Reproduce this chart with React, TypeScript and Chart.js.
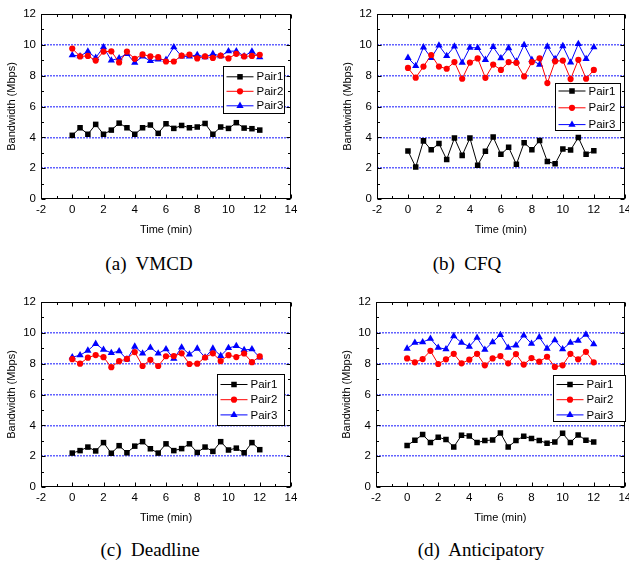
import React, { useEffect, useRef } from "react";
import { Chart, registerables } from "chart.js";

Chart.register(...registerables);

// ---------- data ----------
const times = [0, 0.5, 1, 1.5, 2, 2.5, 3, 3.5, 4, 4.5, 5, 5.5, 6, 6.5, 7, 7.5, 8, 8.5, 9, 9.5, 10, 10.5, 11, 11.5, 12];
const xTicks = [-2, 0, 2, 4, 6, 8, 10, 12, 14];
const yTicks = [0, 2, 4, 6, 8, 10, 12];
const seriesNames = ["Pair1", "Pair2", "Pair3"];
const xTitle = "Time (min)";
const yTitle = "Bandwidth (Mbps)";

const vmcdPair1 = [4.13, 4.62, 4.2, 4.84, 4.2, 4.47, 4.92, 4.62, 4.2, 4.62, 4.8, 4.26, 4.88, 4.58, 4.77, 4.62, 4.67, 4.9, 4.2, 4.67, 4.58, 4.95, 4.6, 4.56, 4.47];
const vmcdPair2 = [9.76, 9.25, 9.28, 8.98, 9.56, 9.58, 8.86, 9.56, 9.09, 9.38, 9.25, 9.2, 8.92, 8.92, 9.3, 9.37, 9.12, 9.25, 9.15, 9.3, 9.12, 9.42, 9.25, 9.28, 9.35];
const vmcdPair3 = [9.33, 9.27, 9.57, 9.16, 9.85, 8.99, 9.14, 9.42, 8.84, 9.25, 8.95, 9.05, 9.03, 9.85, 9.25, 9.25, 9.35, 9.2, 9.42, 9.27, 9.59, 9.59, 9.27, 9.57, 9.2];

const cfqPair1 = [3.12, 2.07, 3.77, 3.19, 3.6, 2.56, 3.95, 2.83, 3.95, 2.19, 3.1, 4.02, 2.9, 3.35, 2.25, 3.65, 3.19, 3.8, 2.43, 2.28, 3.24, 3.18, 3.99, 2.9, 3.13];
const cfqPair2 = [8.5, 7.87, 8.59, 9.34, 8.59, 8.45, 8.88, 7.8, 8.85, 9.12, 7.86, 8.72, 8.37, 8.88, 8.83, 7.95, 8.88, 9.13, 7.52, 8.93, 8.98, 7.78, 9.03, 7.8, 8.37];
const cfqPair3 = [9.16, 8.63, 9.84, 9.15, 9.96, 9.28, 9.9, 8.84, 9.82, 9.8, 9.03, 9.86, 9.14, 9.79, 8.92, 10.0, 9.03, 8.71, 9.89, 9.08, 9.92, 8.86, 10.06, 9.08, 9.85];

const deadlinePair1 = [2.2, 2.36, 2.59, 2.34, 2.88, 2.19, 2.68, 2.22, 2.65, 2.94, 2.48, 2.2, 2.8, 2.36, 2.49, 2.8, 2.24, 2.59, 2.31, 2.94, 2.4, 2.52, 2.22, 2.88, 2.42];
const deadlinePair2 = [8.29, 8.0, 8.39, 8.56, 8.42, 7.77, 8.16, 8.31, 8.75, 7.85, 8.25, 7.85, 8.48, 8.49, 8.67, 7.98, 8.0, 8.4, 8.67, 8.17, 8.55, 8.43, 8.66, 8.1, 8.47];
const deadlinePair3 = [8.42, 8.55, 8.85, 9.29, 8.91, 8.7, 8.81, 8.28, 9.11, 8.66, 9.04, 8.66, 8.94, 8.32, 9.06, 8.6, 8.98, 8.4, 8.98, 8.51, 9.02, 9.15, 8.89, 8.94, 8.4];

const anticPair1 = [2.69, 3.03, 3.4, 2.88, 3.23, 3.08, 2.6, 3.35, 3.31, 2.88, 3.01, 3.05, 3.51, 2.6, 3.01, 3.29, 3.14, 3.01, 2.84, 2.92, 3.48, 2.88, 3.38, 3.03, 2.92];
const anticPair2 = [8.34, 8.09, 8.3, 8.83, 7.98, 8.28, 8.64, 8.02, 8.26, 8.64, 7.89, 8.34, 8.49, 8.02, 8.62, 7.94, 8.36, 8.13, 8.45, 7.79, 7.89, 8.64, 8.28, 8.77, 8.09];
const anticPair3 = [8.98, 9.36, 9.4, 9.62, 9.04, 8.94, 9.79, 9.36, 9.11, 9.68, 8.91, 9.4, 9.87, 9.04, 9.19, 9.83, 9.3, 9.72, 8.98, 9.53, 8.94, 9.36, 9.49, 9.89, 9.26];

// ---------- styles ----------
const FONT = "'Liberation Sans', Arial, sans-serif";
const seriesColors = ["#000000", "#ff0000", "#0000ff"];
const seriesMarkers = ["rect", "circle", "triangle"];
const markerRadius = [3.9, 3.1, 4.2];
const GRID = "rgba(70,70,255,0.85)";

type LegendBox = { x: number; y: number; w: number; h: number; r0: number; dr: number };
type PanelCfg = {
  caption: string;
  series: number[][];
  left: number;
  top: number;
  width: number;
  height: number;
  padL: number;
  padR: number;
  legend: LegendBox;
  capX: number;
  capY: number;
};

const panels: PanelCfg[] = [
  { caption: "(a)  VMCD", series: [vmcdPair1, vmcdPair2, vmcdPair3], left: 0, top: 0, width: 310, height: 245, padL: 0, padR: 19,
    legend: { x: 223, y: 66, w: 61, h: 47, r0: 10.3, dr: 14.5 }, capX: 149, capY: 264 },
  { caption: "(b)  CFQ", series: [cfqPair1, cfqPair2, cfqPair3], left: 310, top: 0, width: 319, height: 245, padL: 26, padR: 4,
    legend: { x: 555, y: 83, w: 65, h: 47, r0: 7.5, dr: 16.8 }, capX: 467, capY: 264 },
  { caption: "(c)  Deadline", series: [deadlinePair1, deadlinePair2, deadlinePair3], left: 0, top: 288, width: 310, height: 245, padL: 0, padR: 19,
    legend: { x: 217, y: 374, w: 67, h: 51, r0: 10, dr: 15.2 }, capX: 150, capY: 550 },
  { caption: "(d)  Anticipatory", series: [anticPair1, anticPair2, anticPair3], left: 310, top: 288, width: 319, height: 245, padL: 25, padR: 3,
    legend: { x: 553, y: 375, w: 72, h: 46, r0: 9, dr: 15.2 }, capX: 481, capY: 550 },
];

function drawMarker(ctx: CanvasRenderingContext2D, style: string, x: number, y: number, r: number, color: string) {
  ctx.fillStyle = color;
  ctx.beginPath();
  if (style === "rect") {
    const s = Math.SQRT1_2 * r;
    ctx.rect(x - s, y - s, 2 * s, 2 * s);
  } else if (style === "circle") {
    ctx.arc(x, y, r, 0, Math.PI * 2);
  } else {
    const a = -Math.PI / 2;
    for (let k = 0; k < 3; k++) {
      const ang = a + (k * 2 * Math.PI) / 3;
      const px = x + Math.cos(ang) * r;
      const py = y + Math.sin(ang) * r;
      if (k === 0) ctx.moveTo(px, py);
      else ctx.lineTo(px, py);
    }
    ctx.closePath();
  }
  ctx.fill();
}

const framePlugin = {
  id: "frame",
  afterDatasetsDraw(chart: any) {
    const { ctx, chartArea: a, scales } = chart;
    const xs = scales.x;
    const ys = scales.y;
    ctx.save();
    ctx.strokeStyle = "#000";
    ctx.lineWidth = 1;
    const L = Math.round(a.left) + 0.5;
    const R = Math.round(a.right) - 0.5;
    const T = Math.round(a.top) + 0.5;
    const B = Math.round(a.bottom) - 0.5;
    ctx.strokeRect(L, T, R - L, B - T);
    const xVals: { v: number; major: boolean }[] = [];
    xTicks.forEach((v, i) => {
      xVals.push({ v, major: true });
      if (i < xTicks.length - 1) xVals.push({ v: (v + xTicks[i + 1]) / 2, major: false });
    });
    const yVals: { v: number; major: boolean }[] = [];
    yTicks.forEach((v, i) => {
      yVals.push({ v, major: true });
      if (i < yTicks.length - 1) yVals.push({ v: (v + yTicks[i + 1]) / 2, major: false });
    });
    ctx.beginPath();
    xVals.forEach(({ v, major }) => {
      const px = Math.round(xs.getPixelForValue(v)) + 0.5;
      const len = major ? 4 : 2.5;
      ctx.moveTo(px, B);
      ctx.lineTo(px, B - len);
      ctx.moveTo(px, T);
      ctx.lineTo(px, T + len);
    });
    yVals.forEach(({ v, major }) => {
      const py = Math.round(ys.getPixelForValue(v)) + 0.5;
      const len = major ? 4 : 2.5;
      ctx.moveTo(L, py);
      ctx.lineTo(L + len, py);
      ctx.moveTo(R, py);
      ctx.lineTo(R - len, py);
    });
    ctx.stroke();
    ctx.restore();
  },
};

function makeLegendPlugin(cfg: PanelCfg) {
  return {
    id: "boxLegend",
    afterDraw(chart: any) {
      const ctx: CanvasRenderingContext2D = chart.ctx;
      const lg = cfg.legend;
      const bx = Math.round(lg.x - cfg.left) + 0.5;
      const by = Math.round(lg.y - cfg.top) + 0.5;
      ctx.save();
      ctx.fillStyle = "#fff";
      ctx.fillRect(bx, by, lg.w, lg.h);
      ctx.strokeStyle = "#000";
      ctx.lineWidth = 1;
      ctx.strokeRect(bx, by, lg.w, lg.h);
      ctx.font = `11.5px ${FONT}`;
      ctx.textBaseline = "middle";
      ctx.textAlign = "left";
      seriesNames.forEach((name, i) => {
        const ry = by + lg.r0 + i * lg.dr;
        ctx.strokeStyle = seriesColors[i];
        ctx.beginPath();
        ctx.moveTo(bx + 3, ry);
        ctx.lineTo(bx + 30, ry);
        ctx.stroke();
        drawMarker(ctx, seriesMarkers[i], bx + 16.5, ry, markerRadius[i], seriesColors[i]);
        ctx.fillStyle = "#000";
        ctx.fillText(name, bx + 33, ry + 0.5);
      });
      ctx.restore();
    },
  };
}

function Panel({ cfg }: { cfg: PanelCfg }) {
  const ref = useRef<HTMLCanvasElement>(null);
  useEffect(() => {
    const tickFont = { family: FONT, size: 11.5 };
    const titleFont = { family: FONT, size: 11 };
    const chart = new Chart(ref.current as HTMLCanvasElement, {
      type: "line",
      data: {
        datasets: cfg.series.map((vals, i) => ({
          label: seriesNames[i],
          data: times.map((t, k) => ({ x: t, y: vals[k] })),
          borderColor: seriesColors[i],
          backgroundColor: seriesColors[i],
          borderWidth: 1,
          pointStyle: seriesMarkers[i] as any,
          pointRadius: markerRadius[i],
          pointBorderWidth: 0,
          tension: 0,
        })),
      },
      options: {
        animation: false,
        responsive: false,
        events: [],
        layout: { padding: { left: cfg.padL, right: cfg.padR, top: 14, bottom: 0 } },
        plugins: { legend: { display: false }, tooltip: { enabled: false } },
        scales: {
          x: {
            type: "linear",
            min: xTicks[0],
            max: xTicks[xTicks.length - 1],
            afterBuildTicks: (s: any) => {
              s.ticks = xTicks.map((v) => ({ value: v }));
            },
            ticks: { font: tickFont, color: "#000", padding: 4, maxRotation: 0, autoSkip: false },
            grid: { display: false, drawTicks: false },
            border: { display: false },
            title: { display: true, text: xTitle, font: titleFont, color: "#000", padding: { top: 0, bottom: 8.4 } },
            afterFit: (s: any) => {
              s.height = 46;
              s.paddingLeft = 0;
              s.paddingRight = 0;
            },
          },
          y: {
            type: "linear",
            min: yTicks[0],
            max: yTicks[yTicks.length - 1],
            afterBuildTicks: (s: any) => {
              s.ticks = yTicks.map((v) => ({ value: v }));
            },
            ticks: { font: tickFont, color: "#000", padding: 5, autoSkip: false },
            grid: {
              drawTicks: false,
              lineWidth: 1.5,
              color: (c: any) =>
                c.tick && (c.tick.value === yTicks[0] || c.tick.value === yTicks[yTicks.length - 1]) ? "rgba(0,0,0,0)" : GRID,
            },
            border: { display: false, dash: [2, 1] },
            title: { display: true, text: yTitle, font: titleFont, color: "#000", padding: { top: 5, bottom: 0 } },
            afterFit: (s: any) => {
              s.width = 41;
              s.paddingTop = 0;
              s.paddingBottom = 0;
            },
          },
        },
      },
      plugins: [framePlugin, makeLegendPlugin(cfg)],
    } as any);
    return () => chart.destroy();
  }, []);
  return (
    <canvas
      ref={ref}
      width={cfg.width}
      height={cfg.height}
      style={{ position: "absolute", left: cfg.left, top: cfg.top, width: cfg.width, height: cfg.height }}
    />
  );
}

export default function App() {
  return (
    <div style={{ position: "absolute", left: 0, top: 0, width: 629, height: 568, background: "#fff", overflow: "hidden" }}>
      {panels.map((p, i) => (
        <React.Fragment key={i}>
          <Panel cfg={p} />
          <div
            style={{
              position: "absolute",
              left: p.capX,
              top: p.capY - 11,
              transform: "translateX(-50%)",
              whiteSpace: "pre",
              fontFamily: "'Liberation Serif', 'Times New Roman', serif",
              fontSize: 19,
              lineHeight: "22px",
              color: "#000",
            }}
          >
            {p.caption}
          </div>
        </React.Fragment>
      ))}
    </div>
  );
}
